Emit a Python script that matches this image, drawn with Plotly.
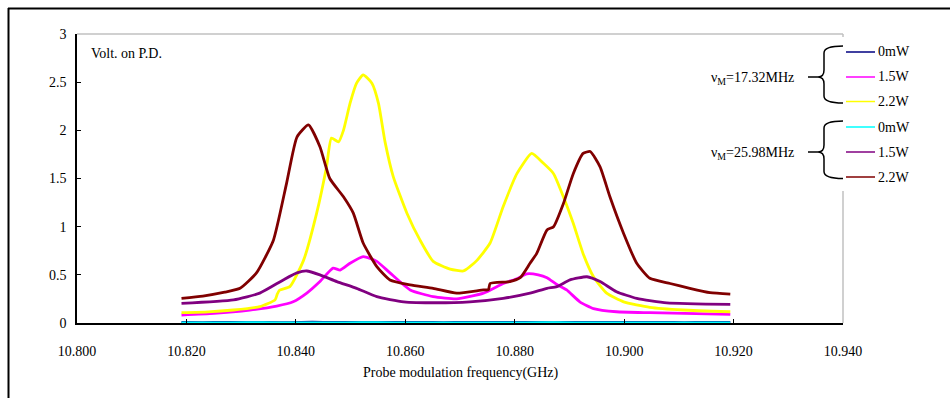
import plotly.graph_objects as go

# ---------------- data ----------------
f_navy = [10.8191, 10.8230, 10.8270, 10.8310, 10.8350, 10.8390, 10.8430, 10.8470, 10.8510,
          10.8550, 10.8590, 10.8630, 10.8670, 10.8710, 10.8750, 10.8790, 10.8830, 10.8870,
          10.8910, 10.8950, 10.8990, 10.9030, 10.9070, 10.9110, 10.9150, 10.9194]
v_navy = [0.006, 0.004, 0.007, 0.005, 0.006, 0.004, 0.008, 0.005, 0.007,
          0.006, 0.005, 0.007, 0.004, 0.006, 0.005, 0.007, 0.006, 0.004,
          0.006, 0.005, 0.007, 0.005, 0.006, 0.004, 0.006, 0.005]

f_magenta = [10.8191, 10.8250, 10.8316, 10.8365, 10.8395, 10.8420, 10.8444, 10.8468, 10.8481,
             10.8499, 10.8523, 10.8548, 10.8572, 10.8609, 10.8651, 10.8694, 10.8743, 10.8779,
             10.8804, 10.8822, 10.8843, 10.8859, 10.8877, 10.8895, 10.8919, 10.8944, 10.8986,
             10.9047, 10.9194]
v_magenta = [0.083, 0.100, 0.135, 0.176, 0.220, 0.310, 0.430, 0.570, 0.550,
             0.620, 0.690, 0.640, 0.520, 0.343, 0.273, 0.250, 0.310, 0.410,
             0.460, 0.510, 0.500, 0.470, 0.400, 0.343, 0.220, 0.150, 0.117,
             0.107, 0.090]

f_yellow = [10.8191, 10.8240, 10.8286, 10.8334, 10.8362, 10.8366, 10.8370, 10.8389, 10.8414,
            10.8438, 10.8456, 10.8465, 10.8478, 10.8487, 10.8499, 10.8511, 10.8523, 10.8539,
            10.8551, 10.8563, 10.8578, 10.8603, 10.8627, 10.8651, 10.8682, 10.8706, 10.8718,
            10.8731, 10.8755, 10.8779, 10.8804, 10.8831, 10.8852, 10.8871, 10.8889, 10.8907,
            10.8925, 10.8944, 10.8968, 10.8999, 10.9047, 10.9108, 10.9194]
v_yellow = [0.107, 0.115, 0.135, 0.170, 0.240, 0.300, 0.340, 0.377, 0.650,
            1.140, 1.620, 1.920, 1.880, 2.000, 2.280, 2.490, 2.575, 2.490,
            2.280, 1.880, 1.520, 1.140, 0.860, 0.640, 0.560, 0.540, 0.585,
            0.650, 0.830, 1.210, 1.550, 1.760, 1.660, 1.550, 1.310, 1.035,
            0.720, 0.480, 0.310, 0.220, 0.163, 0.135, 0.117]

f_cyan = [10.8191, 10.8250, 10.8310, 10.8370, 10.8430, 10.8490, 10.8550, 10.8610, 10.8670,
          10.8730, 10.8790, 10.8850, 10.8910, 10.8970, 10.9030, 10.9090, 10.9150, 10.9194]
v_cyan = [0.002, 0.001, 0.003, 0.002, 0.001, 0.002, 0.003, 0.001, 0.002,
          0.002, 0.001, 0.003, 0.002, 0.001, 0.002, 0.002, 0.001, 0.002]

f_purple = [10.8191, 10.8286, 10.8334, 10.8377, 10.8402, 10.8420, 10.8444, 10.8475, 10.8511,
            10.8548, 10.8597, 10.8657, 10.8718, 10.8779, 10.8828, 10.8859, 10.8877, 10.8901,
            10.8932, 10.8956, 10.8986, 10.9023, 10.9078, 10.9194]
v_purple = [0.204, 0.240, 0.310, 0.447, 0.520, 0.540, 0.500, 0.430, 0.360,
            0.273, 0.220, 0.210, 0.220, 0.256, 0.310, 0.360, 0.377, 0.447,
            0.480, 0.430, 0.325, 0.256, 0.210, 0.194]

f_brown = [10.8191, 10.8230, 10.8270, 10.8298, 10.8328, 10.8359, 10.8383, 10.8402, 10.8423,
           10.8444, 10.8462, 10.8487, 10.8505, 10.8523, 10.8548, 10.8572, 10.8609, 10.8651,
           10.8694, 10.8743, 10.8752, 10.8755, 10.8791, 10.8810, 10.8828, 10.8840, 10.8859,
           10.8871, 10.8889, 10.8907, 10.8925, 10.8938, 10.8956, 10.8974, 10.8999, 10.9023,
           10.9047, 10.9084, 10.9120, 10.9157, 10.9194]
v_brown = [0.256, 0.280, 0.320, 0.360, 0.520, 0.860, 1.450, 1.930, 2.056,
           1.830, 1.500, 1.310, 1.140, 0.830, 0.585, 0.447, 0.395, 0.360,
           0.310, 0.343, 0.345, 0.410, 0.430, 0.470, 0.620, 0.720, 0.966,
           1.000, 1.240, 1.550, 1.760, 1.780, 1.620, 1.310, 0.930, 0.620,
           0.464, 0.410, 0.360, 0.315, 0.300]

series_names = ["0mW", "1.5W", "2.2W", "0mW", "1.5W", "2.2W"]
group_labels = ["ν<sub>M</sub>=17.32MHz", "ν<sub>M</sub>=25.98MHz"]
x_ticks = [10.80, 10.82, 10.84, 10.86, 10.88, 10.90, 10.92, 10.94]
y_ticks = [0, 0.5, 1, 1.5, 2, 2.5, 3]

colors = ["#000080", "#FF00FF", "#FFFF00", "#00FFFF", "#800080", "#800000"]
xs = [f_navy, f_magenta, f_yellow, f_cyan, f_purple, f_brown]
ys = [v_navy, v_magenta, v_yellow, v_cyan, v_purple, v_brown]

# ---------------- layout geometry (pixels) ----------------
W, H = 950, 398
L, R, T, B = 77, 843, 34, 323
FONT = "Liberation Serif"
TEXT = dict(family=FONT, size=14, color="black")


def px(x):
    return (x - L) / (R - L)


def py(y):
    return (B - y) / (B - T)


fig = go.Figure()
for i in range(6):
    fig.add_trace(go.Scatter(x=xs[i], y=ys[i], mode="lines",
                             line=dict(color=colors[i], width=2.8, shape="spline", smoothing=0.5),
                             name=series_names[i], showlegend=False,
                             hoverinfo="skip"))

shapes = []
# outer frame (top and left)
shapes.append(dict(type="line", xref="paper", yref="paper", x0=px(8), x1=px(951), y0=py(8.5), y1=py(8.5),
                   line=dict(color="black", width=2)))
shapes.append(dict(type="line", xref="paper", yref="paper", x0=px(8.5), x1=px(8.5), y0=py(8), y1=py(399),
                   line=dict(color="black", width=2)))
# plot area border top/right (gray)
shapes.append(dict(type="line", xref="paper", yref="paper", x0=0, x1=1, y0=1, y1=1,
                   line=dict(color="#c0c0c0", width=1.5)))
shapes.append(dict(type="line", xref="paper", yref="paper", x0=1, x1=1, y0=0, y1=1,
                   line=dict(color="#c0c0c0", width=1.5)))
# legend white box
shapes.append(dict(type="rect", xref="paper", yref="paper", x0=px(688), x1=px(950), y0=py(37), y1=py(191),
                   fillcolor="white", line=dict(width=0), layer="above"))

annotations = []
# legend groups
group_rows = [[52, 77, 101.5], [127, 152, 177]]
for g in range(2):
    rows = group_rows[g]
    ymid = rows[1]
    top, bot = rows[0] - 6, rows[2] + 1.5
    path = (f"M {px(808)},{py(ymid)} L {px(818)},{py(ymid)} "
            f"Q {px(824)},{py(ymid)} {px(824)},{py(ymid - 7)} "
            f"L {px(824)},{py(top + 7)} Q {px(824)},{py(top)} {px(843)},{py(top)} "
            f"M {px(818)},{py(ymid)} Q {px(824)},{py(ymid)} {px(824)},{py(ymid + 7)} "
            f"L {px(824)},{py(bot - 7)} Q {px(824)},{py(bot)} {px(843)},{py(bot)}")
    shapes.append(dict(type="path", xref="paper", yref="paper", path=path,
                       line=dict(color="black", width=1.5), layer="above"))
    annotations.append(dict(xref="paper", yref="paper", x=px(796), y=py(ymid + 1),
                            text=group_labels[g], showarrow=False, xanchor="right", yanchor="middle",
                            font=TEXT))
    for k in range(3):
        idx = g * 3 + k
        shapes.append(dict(type="line", xref="paper", yref="paper", x0=px(846), x1=px(875),
                           y0=py(rows[k]), y1=py(rows[k]),
                           line=dict(color=colors[idx], width=1.5), layer="above"))
        annotations.append(dict(xref="paper", yref="paper", x=px(876), y=py(rows[k]),
                                text=series_names[idx], showarrow=False, xanchor="left", yanchor="middle",
                                font=TEXT))

# axis titles
annotations.append(dict(xref="paper", yref="paper", x=px(89), y=py(54), text="Volt. on P.D.",
                        showarrow=False, xanchor="left", yanchor="middle", font=TEXT))
annotations.append(dict(xref="paper", yref="paper", x=px(460), y=py(373),
                        text="Probe modulation frequency(GHz)",
                        showarrow=False, xanchor="center", yanchor="middle", font=TEXT))

fig.update_layout(
    width=W, height=H,
    margin=dict(l=L, r=W - R, t=T, b=H - B, pad=0),
    paper_bgcolor="white", plot_bgcolor="white",
    font=TEXT,
    shapes=shapes, annotations=annotations,
    xaxis=dict(range=[10.80, 10.94], tickvals=x_ticks, tickformat=".3f", tickfont=TEXT,
               showline=True, linecolor="black", linewidth=1.5, mirror=False,
               ticks="inside", ticklen=4, tickcolor="black", showgrid=False, zeroline=False,
               ticklabelstandoff=14),
    yaxis=dict(range=[0, 3], tickvals=y_ticks, tickfont=TEXT,
               showline=True, linecolor="black", linewidth=1.5, mirror=False,
               ticks="inside", ticklen=4, tickcolor="black", showgrid=False, zeroline=False,
               ticklabelstandoff=6),
)

fig.write_html("out.html", config={"displayModeBar": False},
               post_script="document.body.style.margin='0px';")
